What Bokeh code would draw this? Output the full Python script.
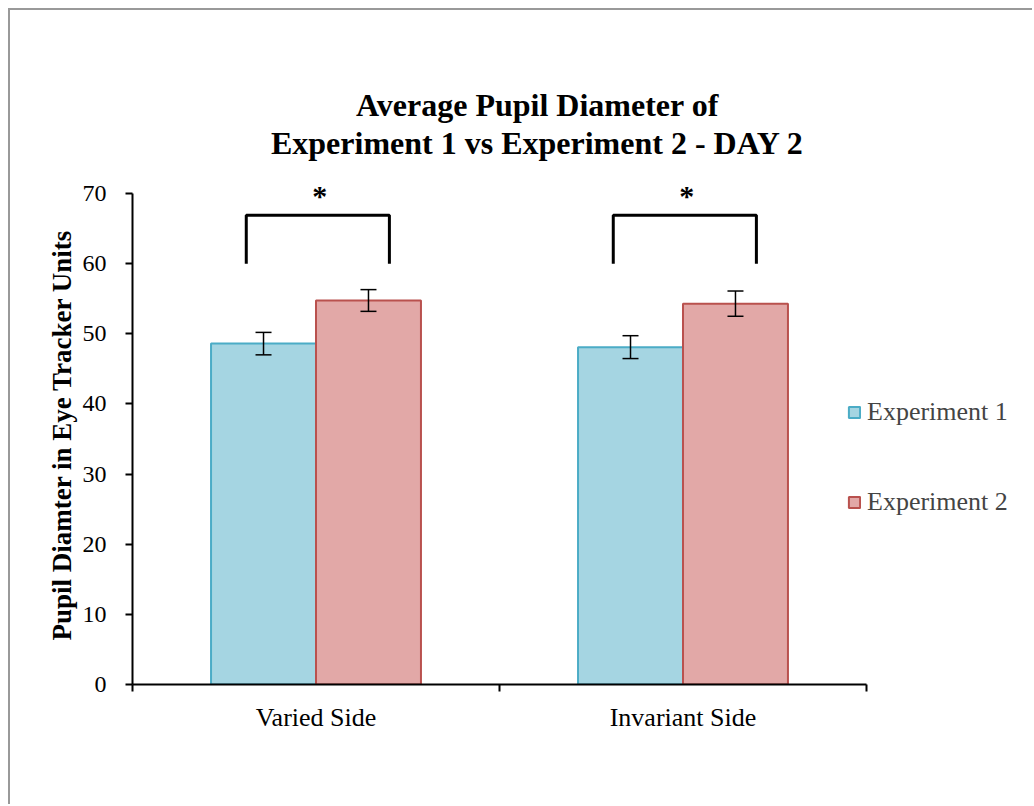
from bokeh.plotting import figure
from bokeh.models import (ColumnDataSource, Whisker, TeeHead, FixedTicker, Legend,
                          LegendItem, Label, Title, Range1d)
from bokeh.embed import file_html
from bokeh.resources import INLINE

# ---------------- data ----------------
categories = ["Varied Side", "Invariant Side"]
series_names = ["Experiment 1", "Experiment 2"]
exp1_values = [48.6, 48.1]
exp2_values = [54.75, 54.3]
exp1_err = [1.6, 1.63]
exp2_err = [1.55, 1.8]
y_ticks = [0, 10, 20, 30, 40, 50, 60, 70]
significance = ["*", "*"]
title_lines = ["Average Pupil Diameter of", "Experiment 1 vs Experiment 2 - DAY 2"]
y_label = "Pupil Diamter in Eye Tracker Units"

# ---------------- styling ----------------
FONT = "Liberation Serif"
C1_FILL, C1_LINE = "#A5D5E2", "#4BACC6"
C2_FILL, C2_LINE = "#E2A8A7", "#B9514E"
BAR_W = 0.286
N = len(categories)
X_END = 2.436   # extra room on the right so the legend is not clipped
Y_END = 87.54   # extra room on top for the significance marks and title lines
TITLE_X = 1.1035
TITLE_Y = [82.6, 77.2]

centers = [i + 0.5 for i in range(N)]

p = figure(width=1024, height=796, output_backend="svg", toolbar_location=None,
           title=None,
           x_range=Range1d(0, X_END), y_range=Range1d(0, Y_END),
           min_border_left=122, min_border_right=8, min_border_top=60,
           min_border_bottom=122)
p.styles = {"margin-left": "8px", "margin-top": "8px",
            "border-left": "2px solid #999999", "border-top": "2px solid #999999"}
p.outline_line_color = None
p.xgrid.visible = False
p.ygrid.visible = False
p.background_fill_color = "white"
p.border_fill_color = "white"

src1 = ColumnDataSource(dict(x=[c - BAR_W / 2 for c in centers], top=exp1_values,
                             lower=[v - e for v, e in zip(exp1_values, exp1_err)],
                             upper=[v + e for v, e in zip(exp1_values, exp1_err)]))
src2 = ColumnDataSource(dict(x=[c + BAR_W / 2 for c in centers], top=exp2_values,
                             lower=[v - e for v, e in zip(exp2_values, exp2_err)],
                             upper=[v + e for v, e in zip(exp2_values, exp2_err)]))

r1 = p.vbar(x="x", top="top", width=BAR_W, source=src1, fill_color=C1_FILL,
            line_color=C1_LINE, line_width=2)
r2 = p.vbar(x="x", top="top", width=BAR_W, source=src2, fill_color=C2_FILL,
            line_color=C2_LINE, line_width=2)

for s in (src1, src2):
    p.add_layout(Whisker(source=s, base="x", lower="lower", upper="upper",
                         level="overlay",
                         line_color="black", line_width=1.5,
                         upper_head=TeeHead(size=16, line_width=1.5, line_color="black"),
                         lower_head=TeeHead(size=16, line_width=1.5, line_color="black")))

# significance brackets
for c, mark in zip(centers, significance):
    p.line([c - 0.19, c - 0.19, c + 0.2, c + 0.2], [60, 66.9, 66.9, 60],
           line_color="black", line_width=3)
    p.add_layout(Label(x=c + 0.01, y=70.0, text=mark, text_align="center",
                       text_baseline="middle", text_font=FONT,
                       text_font_size="30px", text_font_style="bold",
                       text_color="black", y_offset=-2))

# chart title: two centred lines
for line, ty in zip(title_lines, TITLE_Y):
    p.add_layout(Label(x=TITLE_X, y=ty, text=line, text_align="center",
                       text_baseline="middle", text_font=FONT,
                       text_font_size="32px", text_font_style="bold",
                       text_color="black"))

# axes
p.yaxis.ticker = FixedTicker(ticks=y_ticks)
p.yaxis.bounds = (0, 70)
p.yaxis.major_label_text_font = FONT
p.yaxis.major_label_text_font_size = "24px"
p.yaxis.major_label_standoff = 19
p.yaxis.major_tick_in = 0
p.yaxis.major_tick_out = 7

overrides = {}
for c, name in zip(centers, categories):
    overrides[c] = name
    overrides[str(c)] = name
p.xaxis.ticker = FixedTicker(ticks=centers, minor_ticks=list(range(N + 1)))
p.xaxis.bounds = (0, N)
p.xaxis.major_label_overrides = overrides
p.xaxis.major_tick_in = 0
p.xaxis.major_tick_out = 0
p.xaxis.minor_tick_in = 0
p.xaxis.minor_tick_out = 7
p.xaxis.major_label_text_font = FONT
p.xaxis.major_label_text_font_size = "26px"
p.xaxis.major_label_standoff = 11

for ax in (p.xaxis[0], p.yaxis[0]):
    ax.axis_line_color = "black"
    ax.axis_line_width = 2
    ax.major_tick_line_color = "black"
    ax.major_tick_line_width = 2
    ax.minor_tick_line_color = "black" if ax is p.xaxis[0] else None
    ax.minor_tick_line_width = 2
    ax.major_label_text_color = "black"

# y axis title, centred on the 0-70 axis span rather than on the whole frame
p.add_layout(Title(text=y_label, align="left", offset=44, text_font=FONT,
                   text_font_size="27px", text_font_style="bold", text_color="black",
                   standoff=6), "left")

legend = Legend(items=[LegendItem(label=series_names[0], renderers=[r1]),
                       LegendItem(label=series_names[1], renderers=[r2])],
                location=(715, 167), orientation="vertical",
                label_text_font=FONT, label_text_font_size="26px",
                glyph_width=14, glyph_height=14, label_standoff=6, spacing=60,
                padding=0, margin=0, border_line_color=None,
                background_fill_alpha=0)
p.add_layout(legend, "center")

open("out.html", "w").write(file_html(p, INLINE))
